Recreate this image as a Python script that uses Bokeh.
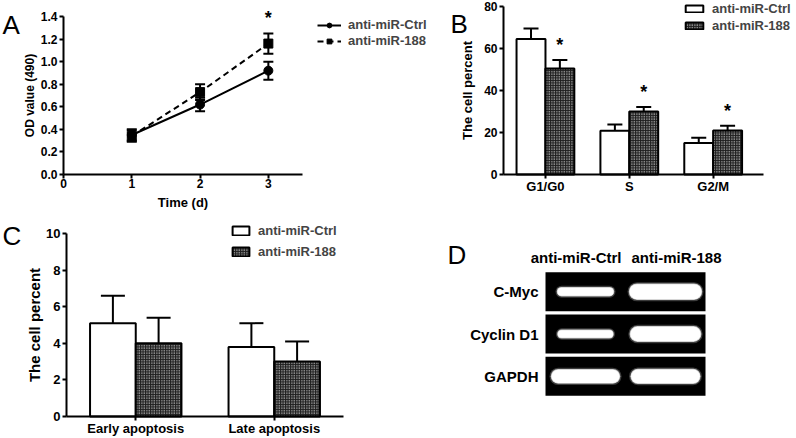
from bokeh.plotting import figure
from bokeh.models import (Range1d, FixedTicker, NumeralTickFormatter, Legend, LegendItem,
                          Whisker, TeeHead, Label, LabelSet, ColumnDataSource)
from bokeh.core.properties import value
from bokeh.layouts import column, row
from bokeh.embed import file_html
from bokeh.resources import INLINE

FONT = "Liberation Sans"

# ---------------- data ----------------
# Panel A: proliferation (OD 490)
days = [1, 2, 3]
od_ctrl = [0.35, 0.62, 0.92]
od_ctrl_err = [0.05, 0.06, 0.08]
od_188 = [0.34, 0.73, 1.16]
od_188_err = [0.05, 0.07, 0.09]
a_sig = [False, False, True]
a_xticks = [0, 1, 2, 3]
a_yticks = [0, 0.2, 0.4, 0.6, 0.8, 1.0, 1.2, 1.4]

# Panel B: cell cycle
phases = ["G1/G0", "S", "G2/M"]
cycle_ctrl = [64.5, 20.8, 15.0]
cycle_ctrl_err = [5.0, 3.0, 2.5]
cycle_188 = [50.5, 30.0, 21.0]
cycle_188_err = [4.0, 2.2, 2.2]
b_sig = [True, True, True]
b_yticks = [0, 20, 40, 60, 80]

# Panel C: apoptosis
apop = ["Early apoptosis", "Late apoptosis"]
apop_ctrl = [5.1, 3.8]
apop_ctrl_err = [1.5, 1.3]
apop_188 = [4.0, 3.0]
apop_188_err = [1.4, 1.1]
c_yticks = [0, 2, 4, 6, 8, 10]

# Panel D: RT-PCR gel (relative band intensity)
genes = ["C-Myc", "Cyclin D1", "GAPDH"]
lanes = ["anti-miR-Ctrl", "anti-miR-188"]
band_ctrl = [1.0, 0.95, 1.75]
band_188 = [2.0, 1.9, 1.8]

HATCH = dict(fill_color="#1e1e1e", hatch_pattern="dot", hatch_color="white",
             hatch_scale=2.5, hatch_weight=1)


def span(lo, hi, frame_px, px_before, px_after):
    """Range whose [lo, hi] part occupies frame_px pixels, with extra pixel space around."""
    k = (hi - lo) / frame_px
    return Range1d(lo - px_before * k, hi + px_after * k)


def new_fig(w, h, xr, yr):
    p = figure(width=w, height=h, x_range=xr, y_range=yr, output_backend="svg",
               toolbar_location=None, tools="", min_border=0)
    p.xgrid.visible = False
    p.ygrid.visible = False
    p.outline_line_color = None
    return p


def style_axes(p, xb, yb, tick_size="12px", title_size="13px"):
    p.xaxis.fixed_location = yb[0]
    p.yaxis.fixed_location = xb[0]
    p.xaxis.bounds = xb
    p.yaxis.bounds = yb
    for ax in p.axis:
        ax.axis_line_width = 2
        ax.axis_line_color = "black"
        ax.major_tick_line_width = 2
        ax.major_tick_line_color = "black"
        ax.major_tick_out = 4
        ax.major_tick_in = 0
        ax.minor_tick_line_color = None
        ax.major_label_text_font = FONT
        ax.major_label_text_font_style = "bold"
        ax.major_label_text_font_size = tick_size
        ax.major_label_text_color = "black"
        ax.major_label_standoff = 2
        ax.axis_label_text_font = FONT
        ax.axis_label_text_font_style = "bold"
        ax.axis_label_text_font_size = title_size
        ax.axis_label_text_color = "black"
    p.xaxis.major_label_standoff = 0


def letter(p, txt, x, y):
    p.add_layout(Label(x=x, y=y, x_units="screen", y_units="screen", text=txt,
                       text_font=FONT, text_font_size="26px", text_color="black",
                       text_align="left", text_baseline="alphabetic"))


def make_legend(items, x, y, spacing, glyph_w, glyph_h):
    return Legend(items=items, location=(x, y), glyph_width=glyph_w, glyph_height=glyph_h,
                  label_standoff=7, spacing=spacing, padding=0, margin=0,
                  border_line_color=None, background_fill_alpha=0,
                  label_text_font=FONT, label_text_font_style="bold",
                  label_text_font_size="13px", label_height=12)


def stars(p, xs, ys, sig):
    src = ColumnDataSource(dict(x=[x for x, s in zip(xs, sig) if s],
                                y=[y for y, s in zip(ys, sig) if s],
                                t=["*" for s in sig if s]))
    p.add_layout(LabelSet(x="x", y="y", text="t", source=src, y_offset=15,
                          text_align="center", text_baseline="middle", text_font=value(FONT),
                          text_font_style="bold", text_font_size="18px", text_color="black"))


# ---------------- Panel A ----------------
ax_b, ay_b = (0, 3.5), (a_yticks[0], a_yticks[-1])
pA = new_fig(445, 214, span(*ax_b, 239, 63, 143), span(*ay_b, 158, 40, 16))
srcA_c = ColumnDataSource(dict(x=days, y=od_ctrl,
                               lo=[v - e for v, e in zip(od_ctrl, od_ctrl_err)],
                               hi=[v + e for v, e in zip(od_ctrl, od_ctrl_err)]))
srcA_m = ColumnDataSource(dict(x=days, y=od_188,
                               lo=[v - e for v, e in zip(od_188, od_188_err)],
                               hi=[v + e for v, e in zip(od_188, od_188_err)]))
lc = pA.line("x", "y", source=srcA_c, line_color="black", line_width=2)
sc = pA.scatter("x", "y", source=srcA_c, marker="circle", size=9, color="black")
lm = pA.line("x", "y", source=srcA_m, line_color="black", line_width=2, line_dash="6 4")
sm = pA.scatter("x", "y", source=srcA_m, marker="square", size=9, color="black")
for s in (srcA_c, srcA_m):
    pA.add_layout(Whisker(base="x", lower="lo", upper="hi", source=s, dimension="height",
                          line_width=2, line_color="black",
                          upper_head=TeeHead(size=10, line_width=2, line_color="black"),
                          lower_head=TeeHead(size=10, line_width=2, line_color="black")))
stars(pA, days, [max(a + ae, b + be) for a, ae, b, be in
                 zip(od_ctrl, od_ctrl_err, od_188, od_188_err)], a_sig)
pA.xaxis.ticker = FixedTicker(ticks=a_xticks)
pA.yaxis.ticker = FixedTicker(ticks=a_yticks)
pA.yaxis.formatter = NumeralTickFormatter(format="0.0")
pA.xaxis.axis_label = "Time (d)"
pA.yaxis.axis_label = "OD value (490)"
style_axes(pA, ax_b, ay_b, "12px", "13px")
pA.yaxis.axis_label_text_font_size = "12px"
pA.xaxis.axis_label_standoff = 4
pA.yaxis.axis_label_standoff = 1
pA.add_layout(make_legend([LegendItem(label="anti-miR-Ctrl", renderers=[lc, sc]),
                           LegendItem(label="anti-miR-188", renderers=[lm, sm])],
                          317, 166, 1, 24, 12))
letter(pA, "A", 2, 190)

# ---------------- Panel B ----------------
bx_b, by_b = (0.5, len(phases) + 0.6), (b_yticks[0], b_yticks[-1])
pB = new_fig(351, 214, span(*bx_b, 260, 58, 33), span(*by_b, 168, 40, 6))
offB = 0.172
srcB_c = ColumnDataSource(dict(x=[i + 1 - offB for i in range(len(phases))], top=cycle_ctrl,
                               et=[v + e for v, e in zip(cycle_ctrl, cycle_ctrl_err)]))
srcB_m = ColumnDataSource(dict(x=[i + 1 + offB for i in range(len(phases))], top=cycle_188,
                               et=[v + e for v, e in zip(cycle_188, cycle_188_err)]))
bc = pB.vbar(x="x", top="top", width=0.345, source=srcB_c, fill_color="white",
             line_color="black", line_width=2)
bm = pB.vbar(x="x", top="top", width=0.345, source=srcB_m, line_color="black",
             line_width=2, **HATCH)
for s in (srcB_c, srcB_m):
    pB.add_layout(Whisker(base="x", lower="top", upper="et", source=s, dimension="height",
                          line_width=2, line_color="black", lower_head=None,
                          upper_head=TeeHead(size=15, line_width=2, line_color="black")))
stars(pB, srcB_m.data["x"], srcB_m.data["et"], b_sig)
pB.xaxis.ticker = FixedTicker(ticks=[i + 1 for i in range(len(phases))])
pB.xaxis.major_label_overrides = {i + 1: ph for i, ph in enumerate(phases)}
pB.yaxis.ticker = FixedTicker(ticks=b_yticks)
pB.yaxis.axis_label = "The cell percent"
style_axes(pB, bx_b, by_b, "12px", "13px")
pB.xaxis.major_label_text_font_size = "13px"
pB.yaxis.axis_label_standoff = 6
pB.add_layout(make_legend([LegendItem(label="anti-miR-Ctrl", renderers=[bc]),
                           LegendItem(label="anti-miR-188", renderers=[bm])],
                          238, 181, 2, 22, 9))
letter(pB, "B", 5, 191)

# ---------------- Panel C ----------------
cx_b, cy_b = (0.5, len(apop) + 0.5), (c_yticks[0], c_yticks[-1])
pC = new_fig(445, 224, span(*cx_b, 277, 66, 102), span(*cy_b, 183, 22, 19))
offC = 0.165
srcC_c = ColumnDataSource(dict(x=[i + 1 - offC for i in range(len(apop))], top=apop_ctrl,
                               et=[v + e for v, e in zip(apop_ctrl, apop_ctrl_err)]))
srcC_m = ColumnDataSource(dict(x=[i + 1 + offC for i in range(len(apop))], top=apop_188,
                               et=[v + e for v, e in zip(apop_188, apop_188_err)]))
cc = pC.vbar(x="x", top="top", width=0.33, source=srcC_c, fill_color="white",
             line_color="black", line_width=2)
cm = pC.vbar(x="x", top="top", width=0.33, source=srcC_m, line_color="black",
             line_width=2, **HATCH)
for s in (srcC_c, srcC_m):
    pC.add_layout(Whisker(base="x", lower="top", upper="et", source=s, dimension="height",
                          line_width=2, line_color="black", lower_head=None,
                          upper_head=TeeHead(size=24, line_width=2, line_color="black")))
pC.xaxis.ticker = FixedTicker(ticks=[i + 1 for i in range(len(apop))])
pC.xaxis.major_label_overrides = {i + 1: a for i, a in enumerate(apop)}
pC.yaxis.ticker = FixedTicker(ticks=c_yticks)
pC.yaxis.axis_label = "The cell percent"
style_axes(pC, cx_b, cy_b, "13px", "15px")
pC.xaxis.major_label_text_font_size = "13px"
pC.yaxis.axis_label_standoff = 0
pC.add_layout(make_legend([LegendItem(label="anti-miR-Ctrl", renderers=[cc]),
                           LegendItem(label="anti-miR-188", renderers=[cm])],
                          230, 179, 6, 21, 11))
letter(pC, "C", 2, 203)

# ---------------- Panel D ----------------
nl, ng = len(lanes), len(genes)
yD = span(-0.5, ng - 0.5, 127, 56, 41)
pD = new_fig(351, 224, span(0, nl, 160, 100, 91), Range1d(yD.end, yD.start))
pD.xaxis.visible = False
pD.yaxis.visible = False
gi = list(range(ng))
pD.rect(x=[nl / 2] * ng, y=gi, width=nl, height=0.92, fill_color="black", line_color=None)
px_per_unit = 80.0
bx0, bx1, by, bt = [], [], [], []
for lane_i, inten in enumerate([band_ctrl, band_188]):
    for g, v in zip(gi, inten):
        length = 40 + 16 * v
        thick = 1 + 7 * v
        c = lane_i + 0.5
        half = (length - thick) / 2 / px_per_unit
        bx0.append(c - half)
        bx1.append(c + half)
        by.append(g)
        bt.append(thick)
srcD = ColumnDataSource(dict(x0=bx0, x1=bx1, y=by,
                             w3=[t + 4 for t in bt], w2=[t + 1.5 for t in bt], w1=bt))
pD.segment(x0="x0", y0="y", x1="x1", y1="y", source=srcD, line_width="w3",
           line_color="#777777", line_alpha=0.5, line_cap="round")
pD.segment(x0="x0", y0="y", x1="x1", y1="y", source=srcD, line_width="w2",
           line_color="#d8d8d8", line_alpha=0.9, line_cap="round")
pD.segment(x0="x0", y0="y", x1="x1", y1="y", source=srcD, line_width="w1",
           line_color="white", line_cap="round")
srcG = ColumnDataSource(dict(x=[0] * ng, y=gi, t=genes))
pD.add_layout(LabelSet(x="x", y="y", text="t", source=srcG, x_offset=-7, text_align="right",
                       text_baseline="middle", text_font=value(FONT), text_font_style="bold",
                       text_font_size="15px", text_color="black"))
for lane_i, lab in enumerate(lanes):
    pD.add_layout(Label(x=nl / 2, y=-0.5, text=lab, text_align="right" if lane_i == 0 else "left",
                        x_offset=-4 if lane_i == 0 else 6, y_offset=13,
                        text_baseline="alphabetic",
                        text_font=FONT, text_font_style="bold", text_font_size="15px",
                        text_color="black"))
letter(pD, "D", 2, 184)

layout = column(row(pA, pB), row(pC, pD))
open("out.html", "w").write(file_html(layout, INLINE))
